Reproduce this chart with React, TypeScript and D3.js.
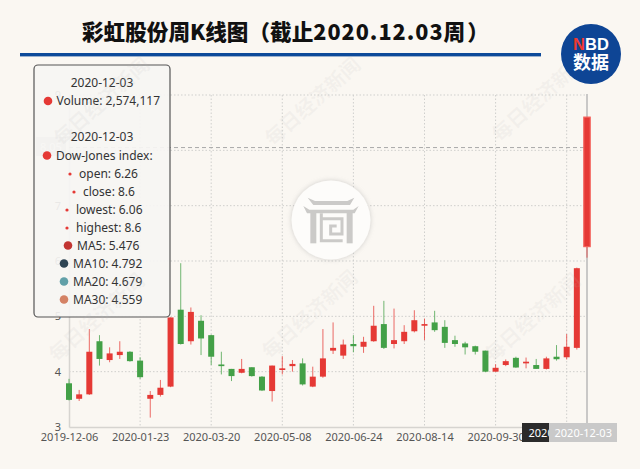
import React, { useRef, useEffect } from 'react';
import * as d3 from 'd3';

const dates = [
  '2019-12-06', '2019-12-13', '2019-12-20', '2019-12-27', '2020-01-03', '2020-01-10', '2020-01-17',
  '2020-01-23', '2020-02-07', '2020-02-14', '2020-02-21', '2020-02-28', '2020-03-06', '2020-03-13',
  '2020-03-20', '2020-03-27', '2020-04-03', '2020-04-10', '2020-04-17', '2020-04-24', '2020-04-30',
  '2020-05-08', '2020-05-15', '2020-05-22', '2020-05-29', '2020-06-05', '2020-06-12', '2020-06-19',
  '2020-06-24', '2020-07-03', '2020-07-10', '2020-07-17', '2020-07-24', '2020-07-31', '2020-08-07',
  '2020-08-14', '2020-08-21', '2020-08-28', '2020-09-04', '2020-09-11', '2020-09-18', '2020-09-25',
  '2020-09-30', '2020-10-09', '2020-10-16', '2020-10-23', '2020-10-30', '2020-11-06', '2020-11-13',
  '2020-11-20', '2020-11-27', '2020-12-03',
];
const opens = [
  3.79, 3.51, 3.59, 4.55, 4.21, 4.3, 4.36, 4.2, 3.51, 3.58, 3.73, 5.12, 4.55, 4.92, 4.66, 4.13, 4.05,
  3.98, 4.08, 3.91, 3.65, 4.03, 4.1, 4.15, 3.73, 3.91, 4.38, 4.29, 4.5, 4.45, 4.55, 4.86, 4.5, 4.55,
  4.73, 4.83, 4.89, 4.81, 4.57, 4.51, 4.46, 4.38, 4.0, 4.12, 4.25, 4.15, 4.12, 4.05, 4.27, 4.26, 4.43,
  6.26,
];
const closes = [
  3.49, 3.59, 4.36, 4.23, 4.33, 4.36, 4.19, 3.9, 3.58, 3.71, 4.98, 4.5, 5.08, 4.6, 4.27, 4.1, 3.92,
  4.05, 3.92, 3.66, 4.11, 4.06, 4.14, 3.77, 3.91, 4.24, 4.43, 4.49, 4.46, 4.54, 4.83, 4.43, 4.57, 4.72,
  4.93, 4.86, 4.75, 4.52, 4.5, 4.44, 4.36, 4.0, 4.07, 4.19, 4.075, 4.18, 4.05, 4.24, 4.225, 4.45, 5.87,
  8.6,
];
const lows = [
  3.48, 3.47, 3.58, 4.11, 4.17, 4.23, 4.18, 3.87, 3.17, 3.55, 3.72, 4.49, 4.49, 4.3, 4.12, 3.95, 3.83,
  3.97, 3.91, 3.65, 3.46, 3.95, 4.0, 3.75, 3.72, 3.89, 4.32, 4.23, 4.35, 4.34, 4.54, 4.41, 4.42, 4.5,
  4.71, 4.57, 4.72, 4.43, 4.45, 4.31, 4.31, 3.99, 4.0, 4.1, 4.07, 4.06, 4.05, 4.04, 4.2, 4.22, 4.4,
  6.06,
];
const highs = [
  3.87, 3.67, 4.77, 4.66, 4.44, 4.55, 4.37, 4.26, 3.65, 3.85, 4.98, 5.96, 5.16, 5.02, 4.67, 4.36, 4.05,
  4.23, 4.08, 3.92, 4.11, 4.28, 4.21, 4.24, 4.09, 4.77, 4.89, 4.58, 4.66, 4.63, 5.19, 5.28, 5.14, 4.84,
  5.11, 4.96, 5.1, 4.93, 4.65, 4.54, 4.47, 4.38, 4.135, 4.22, 4.27, 4.255, 4.23, 4.27, 4.48, 4.68, 5.88,
  8.6,
];
const yTicks = [3, 4, 5, 6, 7, 8, 9];
const tooltipDate = '2020-12-03';
const tooltipVolume = 'Volume: 2,574,117';
const tooltipOhlc = ['open: 6.26', 'close: 8.6', 'lowest: 6.06', 'highest: 8.6'];
const tooltipMa = ['MA5: 5.476', 'MA10: 4.792', 'MA20: 4.679', 'MA30: 4.559'];
const maColors = ['#c23531', '#2f4554', '#61a0a8', '#d48265'];
const pointerValue = 8.05;
const watermarks = [
  [57, 363], [270, 360], [493, 363], [62, 147], [273, 147], [500, 143],
];

const RED = '#e53935';
const GREEN = '#43a047';
const BG = '#faf7f2';
const FONT = '"Noto Sans", sans-serif';
const CJK = '"Noto Sans CJK SC", sans-serif';

export default function App() {
  const svgRef = useRef<SVGSVGElement>(null);

  useEffect(() => {
    if (!svgRef.current) return;
    const svg = d3.select(svgRef.current);
    svg.selectAll('*').remove();

    const margin = { top: 95, right: 53, bottom: 42, left: 69 };
    const width = 640;
    const height = 469;

    const xScale = d3
      .scalePoint<string>()
      .domain(dates)
      .range([margin.left, width - margin.right]);
    const yScale = d3
      .scaleLinear()
      .domain([3, 9])
      .range([height - margin.bottom, margin.top]);
    const tickDates = dates.filter((_, i) => i % 7 === 0);

    const defs = svg.append('defs');
    defs
      .append('clipPath')
      .attr('id', 'label-clip')
      .append('rect')
      .attr('x', 0)
      .attr('y', 0)
      .attr('width', width)
      .attr('height', 442);
    const shadow = defs.append('filter').attr('id', 'soft').attr('x', '-20%').attr('y', '-20%').attr('width', '140%').attr('height', '140%');
    shadow
      .append('feDropShadow')
      .attr('dx', 0)
      .attr('dy', 0)
      .attr('stdDeviation', 2.5)
      .attr('flood-color', '#999')
      .attr('flood-opacity', 0.45);

    svg.append('rect').attr('width', width).attr('height', height).attr('fill', BG);

    // Title and rule
    const title = svg
      .append('text')
      .attr('x', 82)
      .attr('y', 40)
      .attr('font-family', CJK)
      .attr('font-weight', 900)
      .attr('font-size', 21.6)
      .attr('fill', '#111');
    title.append('tspan').text('彩虹股份周K线图（截止');
    title.append('tspan').attr('letter-spacing', 1).text('2020.12.03');
    title.append('tspan').text('周');
    title.append('tspan').attr('dx', 2).text('）');
    svg.append('rect').attr('x', 20).attr('y', 53).attr('width', 521).attr('height', 3.4).attr('fill', '#0d4a9a');

    // Grid
    svg
      .append('g')
      .selectAll('line')
      .data(yTicks.filter((t) => t > 3))
      .enter()
      .append('line')
      .attr('x1', margin.left)
      .attr('x2', width - margin.right)
      .attr('y1', (d) => yScale(d))
      .attr('y2', (d) => yScale(d))
      .attr('stroke', '#cfcfcd')
      .attr('stroke-dasharray', '1.5 2');
    svg
      .append('g')
      .selectAll('line')
      .data(tickDates.slice(1))
      .enter()
      .append('line')
      .attr('x1', (d) => xScale(d)!)
      .attr('x2', (d) => xScale(d)!)
      .attr('y1', margin.top)
      .attr('y2', height - margin.bottom)
      .attr('stroke', '#cfcfcd')
      .attr('stroke-dasharray', '1.5 2');

    // Axes
    const xAxis = svg
      .append('g')
      .attr('clip-path', 'url(#label-clip)')
      .append('g')
      .attr('transform', `translate(0,${height - margin.bottom})`)
      .call(d3.axisBottom(xScale).tickValues(tickDates).tickSize(0).tickPadding(6));
    xAxis.select('.domain').attr('stroke', '#d6d4d0').attr('stroke-width', 1.5);
    xAxis.selectAll('text').attr('font-family', FONT).attr('font-size', 11).attr('fill', '#555');

    const yAxis = svg
      .append('g')
      .attr('transform', `translate(${margin.left},0)`)
      .call(d3.axisLeft(yScale).tickValues(yTicks).tickFormat(d3.format('d')).tickSize(0).tickPadding(8));
    yAxis.select('.domain').attr('stroke', '#d6d4d0').attr('stroke-width', 1.5);
    yAxis.selectAll('text').attr('font-family', FONT).attr('font-size', 11).attr('fill', '#555');

    // Axis pointer lines
    const lastDate = dates[dates.length - 1];
    svg
      .append('line')
      .attr('x1', xScale(lastDate)!)
      .attr('x2', xScale(lastDate)!)
      .attr('y1', margin.top - 1)
      .attr('y2', 423)
      .attr('stroke', '#b9b9b9')
      .attr('stroke-width', 1.5);
    svg
      .append('line')
      .attr('x1', margin.left)
      .attr('x2', width - margin.right)
      .attr('y1', yScale(pointerValue))
      .attr('y2', yScale(pointerValue))
      .attr('stroke', '#a8a8a8')
      .attr('stroke-dasharray', '4 3');

    // Candles
    const candles = svg
      .append('g')
      .selectAll('g')
      .data(dates)
      .enter()
      .append('g')
      .attr('transform', (d) => `translate(${xScale(d)},0)`);
    const colorAt = (i: number) => (closes[i] >= opens[i] ? RED : GREEN);
    candles
      .append('line')
      .attr('y1', (_, i) => yScale(highs[i]))
      .attr('y2', (_, i) => yScale(lows[i]))
      .attr('stroke', (_, i) => colorAt(i))
      .attr('stroke-width', 1)
      .attr('stroke-opacity', 0.75);
    candles
      .append('rect')
      .attr('x', (_, i) => (i === dates.length - 1 ? -3.2 : -3))
      .attr('width', (_, i) => (i === dates.length - 1 ? 6.4 : 6))
      .attr('y', (_, i) => yScale(Math.max(opens[i], closes[i])))
      .attr('height', (_, i) => Math.max(1.5, Math.abs(yScale(opens[i]) - yScale(closes[i]))))
      .attr('fill', (_, i) => colorAt(i))
      .attr('stroke', (_, i) => (i === dates.length - 1 ? '#f4625c' : 'none'))
      .attr('stroke-width', 1.2);

    // Axis pointer labels
    const pointerLabel = (x: number, y: number, w: number, fill: string, label: string, anchor = 5) => {
      svg.append('rect').attr('x', x).attr('y', y).attr('width', w).attr('height', 19).attr('fill', fill);
      svg
        .append('text')
        .attr('x', x + anchor)
        .attr('y', y + 13.5)
        .attr('font-family', FONT)
        .attr('font-size', 11)
        .attr('fill', '#fff')
        .text(label);
    };
    pointerLabel(36, 137, 30, '#c8c8c8', String(pointerValue), 4);
    pointerLabel(522, 423, 68, '#2b2b2b', dates[dates.length - 3], 6.5);
    pointerLabel(549, 423, 68, '#c9c9c9', lastDate, 5.5);

    // Tooltip
    svg
      .append('rect')
      .attr('x', 34)
      .attr('y', 65)
      .attr('width', 136)
      .attr('height', 252)
      .attr('rx', 4)
      .attr('fill', '#f6f5f3')
      .attr('fill-opacity', 0.92)
      .attr('stroke', '#555')
      .attr('stroke-width', 1.2);
    const tip = (x: number, y: number, label: string, anchor = 'start') =>
      svg
        .append('text')
        .attr('x', x)
        .attr('y', y + 4.3)
        .attr('text-anchor', anchor)
        .attr('font-family', FONT)
        .attr('font-size', 12)
        .attr('fill', '#333')
        .text(label);
    const dot = (x: number, y: number, r: number, fill: string) =>
      svg.append('circle').attr('cx', x).attr('cy', y).attr('r', r).attr('fill', fill);

    tip(102, 83, tooltipDate, 'middle');
    dot(48, 101, 4.3, RED);
    tip(56.5, 101, tooltipVolume);
    tip(102, 137, tooltipDate, 'middle');
    dot(47, 155.5, 4.3, RED);
    tip(56, 155.5, 'Dow-Jones index:');

    const ohlcX = [79, 83, 76, 76];
    tooltipOhlc.forEach((label, i) => {
      const y = 174 + i * 18;
      dot(ohlcX[i] - 9, y, 1.6, RED);
      tip(ohlcX[i], y, label);
    });
    const maX = [77, 73, 73, 73];
    tooltipMa.forEach((label, i) => {
      const y = 245.5 + i * 18;
      dot(maX[i] - 9, y, 4.3, maColors[i]);
      tip(maX[i], y, label);
    });

    // Watermarks
    svg
      .append('g')
      .selectAll('text')
      .data(watermarks)
      .enter()
      .append('text')
      .attr('transform', (d) => `translate(${d[0]},${d[1]}) rotate(-42)`)
      .attr('font-family', CJK)
      .attr('font-weight', 700)
      .attr('font-size', 20)
      .attr('fill', '#bbb')
      .attr('fill-opacity', 0.12)
      .text('每日经济新闻');

    // Centre emblem
    svg
      .append('circle')
      .attr('cx', 331)
      .attr('cy', 220)
      .attr('r', 39.5)
      .attr('fill', '#fdfcfa')
      .attr('filter', 'url(#soft)');
    const gate = svg
      .append('g')
      .attr('transform', 'translate(260,150) scale(0.3333)')
      .attr('fill', '#cbcac8');
    gate.append('path').attr('d', 'M143 143 L165 153 L262 153 L283 143 L270 165 L160 165 Z');
    gate.append('path').attr('d', 'M130 168 L148 179 L280 179 L296 168 L284 190 L141 190 Z');
    gate.append('rect').attr('x', 151).attr('y', 188).attr('width', 18).attr('height', 92);
    gate.append('rect').attr('x', 260).attr('y', 188).attr('width', 18).attr('height', 92);
    gate
      .append('path')
      .attr('d', 'M184 190 V272 H248 M184 206 H246 V252 H212 V228 H230')
      .attr('fill', 'none')
      .attr('stroke', '#cbcac8')
      .attr('stroke-width', 9);

    // NBD badge
    svg.append('circle').attr('cx', 591).attr('cy', 54).attr('r', 30).attr('fill', '#0e4595');
    const nbd = svg
      .append('text')
      .attr('x', 591)
      .attr('y', 50)
      .attr('text-anchor', 'middle')
      .attr('font-family', '"Liberation Sans", sans-serif')
      .attr('font-weight', 700)
      .attr('font-size', 16.5)
      .attr('fill', '#fff');
    nbd.append('tspan').attr('fill', '#f0392f').text('N');
    nbd.append('tspan').text('BD');
    svg
      .append('text')
      .attr('x', 591)
      .attr('y', 69)
      .attr('text-anchor', 'middle')
      .attr('font-family', CJK)
      .attr('font-weight', 700)
      .attr('font-size', 18)
      .attr('fill', '#fff')
      .text('数据');
  }, []);

  return (
    <div style={{ position: 'absolute', left: 0, top: 0, width: 640, height: 469, overflow: 'hidden' }}>
      <svg ref={svgRef} width={640} height={469} style={{ display: 'block' }}></svg>
    </div>
  );
}
